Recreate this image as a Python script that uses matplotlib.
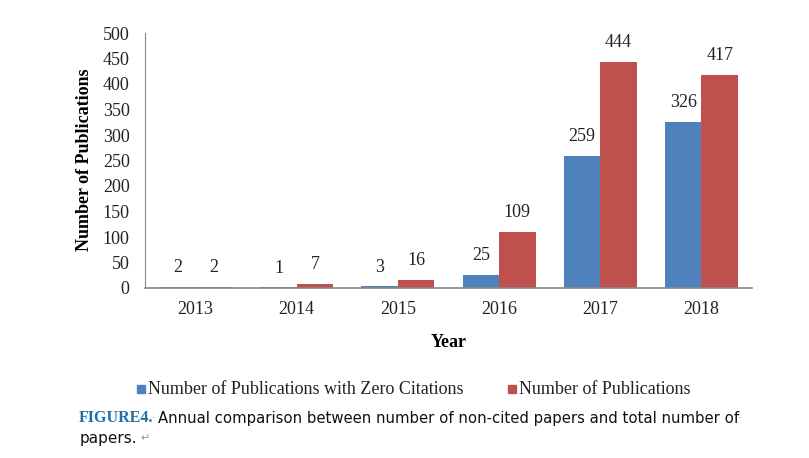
import matplotlib
matplotlib.use('Agg')
import matplotlib.pyplot as plt
import numpy as np
from matplotlib.patches import Rectangle

# Data
years = ['2013', '2014', '2015', '2016', '2017', '2018']
zero_cited = [2, 1, 3, 25, 259, 326]
total_pubs = [2, 7, 16, 109, 444, 417]

blue = '#4F81BD'
red = '#C0504D'
serif = 'Liberation Serif'

fig = plt.figure(figsize=(8.09, 4.58), dpi=100)
ax = fig.add_axes([145 / 809, 1 - 288 / 458, (752 - 145) / 809, (288 - 33) / 458])

x = np.arange(len(years))
w = 0.36
ax.bar(x - w / 2, zero_cited, w, color=blue)
ax.bar(x + w / 2, total_pubs, w, color=red)

for xi, v in zip(x, zero_cited):
    ax.annotate(str(v), (xi - w / 2, v), xytext=(0, 14), textcoords='offset points',
                ha='center', va='center', fontsize=13, family=serif, color='#222222')
for xi, v in zip(x, total_pubs):
    ax.annotate(str(v), (xi + w / 2, v), xytext=(0, 14), textcoords='offset points',
                ha='center', va='center', fontsize=13, family=serif, color='#222222')

ax.set_xlim(-0.5, len(years) - 0.5)
ax.set_ylim(0, 500)
ax.set_yticks(range(0, 501, 50))
ax.set_xticks(x)
ax.set_xticklabels(years)
ax.tick_params(length=0, labelsize=13, colors='#222222')
for lab in ax.get_xticklabels() + ax.get_yticklabels():
    lab.set_family(serif)
ax.tick_params(axis='y', pad=11)
ax.tick_params(axis='x', pad=9)

for s in ['top', 'right']:
    ax.spines[s].set_visible(False)
ax.spines['left'].set_color('#888888')
ax.spines['bottom'].set_color('#888888')
ax.spines['bottom'].set_linewidth(1.2)

ax.set_xlabel('Year', fontsize=13, fontweight='bold', family=serif, labelpad=12)
ax.set_ylabel('Number of Publications', fontsize=13, fontweight='bold', family=serif)
ax.yaxis.set_label_coords((93 - 145) / 607, 0.505)

# legend drawn as figure elements
def legend_item(px, label, color):
    fig.patches.append(Rectangle((px / 809, 1 - 393 / 458), 8 / 809, 8 / 458,
                                 transform=fig.transFigure, color=color))
    fig.text((px + 11) / 809, 1 - 389 / 458, label, fontsize=13, family=serif,
             va='center', ha='left', color='#222222')

legend_item(137, 'Number of Publications with Zero Citations', blue)
legend_item(508, 'Number of Publications', red)

# caption
fig.text(79 / 809, 1 - 418 / 458, 'FIGURE4.', fontsize=11.5, fontweight='bold',
         family=serif, color='#1F6FA8', va='center', ha='left')
fig.text(152 / 809, 1 - 418 / 458, '\u00b7', fontsize=8, family='DejaVu Sans',
         color='#999999', va='center', ha='left')
fig.text(158 / 809, 1 - 418 / 458,
         'Annual comparison between number of non-cited papers and total number of',
         fontsize=10.7, family='DejaVu Sans', color='#111111',
         va='center', ha='left')
fig.text(738 / 809, 1 - 418 / 458, '\u00b7', fontsize=8, family='DejaVu Sans',
         color='#999999', va='center', ha='left')
fig.text(80 / 809, 1 - 438 / 458, 'papers.', fontsize=11, family='DejaVu Sans',
         color='#111111', va='center', ha='left')
fig.text(140 / 809, 1 - 438 / 458, '\u21b5', fontsize=8, family='DejaVu Sans',
         color='#999999', va='center', ha='left')

fig.savefig('out.png', dpi=100)
